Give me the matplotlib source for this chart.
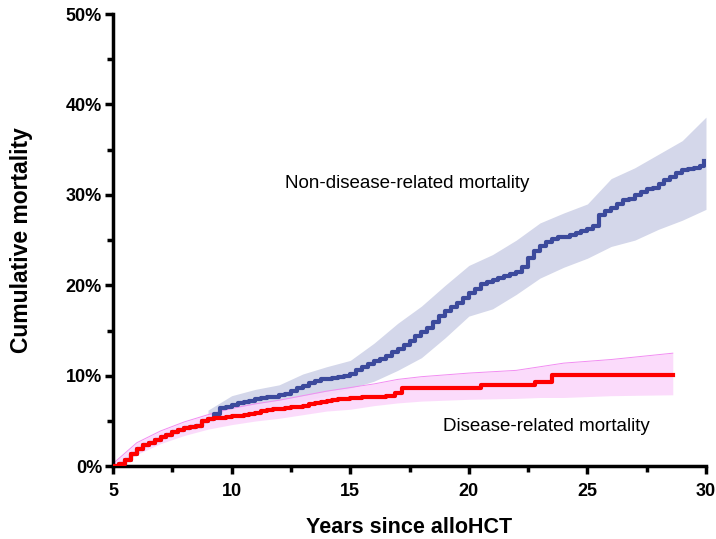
import numpy as np
import matplotlib.pyplot as plt
from matplotlib.ticker import MultipleLocator, FuncFormatter

plt.rcParams['font.family'] = ['Liberation Sans', 'DejaVu Sans']

# Non-disease-related mortality (step curve, %)
t_nd = [5.00, 5.25, 5.50, 5.75, 6.00, 6.25, 6.50, 6.75, 7.00, 7.25, 7.50, 7.75,
        8.00, 8.25, 8.50, 8.75, 9.00, 9.25, 9.50, 9.75, 10.00, 10.25, 10.50, 10.75,
        11.00, 11.25, 11.50, 11.75, 12.00, 12.25, 12.50, 12.75, 13.00, 13.25, 13.50,
        13.75, 14.00, 14.25, 14.50, 14.75, 15.00, 15.25, 15.50, 15.75, 16.00, 16.25,
        16.50, 16.75, 17.00, 17.25, 17.50, 17.75, 18.00, 18.25, 18.50, 18.75, 19.00,
        19.25, 19.50, 19.75, 20.00, 20.25, 20.50, 20.75, 21.00, 21.25, 21.50, 21.75,
        22.00, 22.25, 22.50, 22.75, 23.00, 23.25, 23.50, 23.75, 24.00, 24.25, 24.50,
        24.75, 25.00, 25.25, 25.50, 25.75, 26.00, 26.25, 26.50, 26.75, 27.00, 27.25,
        27.50, 27.75, 28.00, 28.25, 28.50, 28.75, 29.00, 29.25, 29.50, 29.75, 29.90]
y_nd = [0.0, 0.2, 0.7, 1.3, 1.9, 2.3, 2.6, 2.9, 3.2, 3.5, 3.8, 4.0,
        4.2, 4.3, 4.4, 5.0, 5.2, 5.8, 6.4, 6.6, 6.8, 7.0, 7.1, 7.2,
        7.4, 7.5, 7.6, 7.7, 7.9, 8.0, 8.3, 8.6, 8.9, 9.2, 9.4,
        9.6, 9.7, 9.8, 9.9, 10.0, 10.2, 10.6, 11.0, 11.3, 11.6, 11.9,
        12.2, 12.6, 13.0, 13.4, 13.9, 14.4, 14.8, 15.3, 16.0, 16.6, 17.2,
        17.6, 18.0, 18.6, 19.2, 19.6, 20.1, 20.4, 20.6, 20.8, 21.0, 21.2,
        21.5, 22.0, 23.0, 23.8, 24.4, 24.8, 25.1, 25.3, 25.4, 25.6, 25.8,
        26.0, 26.2, 26.6, 27.8, 28.2, 28.6, 29.0, 29.4, 29.6, 30.0, 30.3,
        30.7, 30.8, 31.2, 31.6, 32.0, 32.4, 32.8, 32.9, 33.0, 33.2, 33.7]
# confidence band
t_nd_ci = [9.0, 10, 11, 12, 13, 14, 15, 16, 17, 18, 19, 20, 21, 22, 23, 24, 25,
           26, 27, 28, 29, 30]
hi_nd = [6.2, 7.8, 8.5, 9.0, 10.2, 11.0, 11.7, 13.6, 15.8, 17.7, 20.0, 22.2,
         23.4, 25.0, 26.9, 28.0, 29.0, 31.8, 33.0, 34.5, 36.0, 38.6]
lo_nd = [5.0, 5.6, 5.9, 6.5, 7.2, 7.8, 8.6, 9.4, 10.6, 12.0, 14.2, 16.6,
         17.4, 19.0, 20.8, 22.0, 23.0, 24.3, 25.0, 26.2, 27.2, 28.4]

# Disease-related mortality
t_d = [5.00, 5.25, 5.50, 5.75, 6.00, 6.25, 6.50, 6.75, 7.00, 7.25, 7.50, 7.75,
       8.00, 8.25, 8.50, 8.75, 9.00, 9.25, 9.50, 9.75, 10.00, 10.25, 10.50, 10.75,
       11.00, 11.25, 11.50, 11.75, 12.00, 12.25, 12.50, 12.75, 13.00, 13.25, 13.50,
       13.75, 14.00, 14.25, 14.50, 14.75, 15.00, 15.50, 16.00, 16.50, 16.90, 17.20,
       17.50, 19.70, 20.50, 22.80, 23.50, 28.60]
y_d = [0.0, 0.2, 0.7, 1.3, 1.9, 2.3, 2.6, 2.9, 3.2, 3.5, 3.8, 4.0,
       4.2, 4.3, 4.4, 5.0, 5.2, 5.3, 5.3, 5.4, 5.5, 5.6, 5.7, 5.8,
       5.9, 6.1, 6.2, 6.3, 6.3, 6.4, 6.5, 6.6, 6.7, 6.9, 7.0,
       7.1, 7.2, 7.3, 7.4, 7.45, 7.5, 7.6, 7.7, 7.8, 8.1, 8.6,
       8.6, 8.7, 9.0, 9.3, 10.1, 10.1]
t_d_ci = [5, 6, 7, 8, 9, 10, 11, 12, 13, 14, 15, 16, 17, 18, 20, 22, 23, 24, 26, 28.6]
hi_d = [0.3, 2.6, 3.9, 4.9, 5.7, 6.4, 6.9, 7.3, 7.8, 8.3, 8.7, 9.1, 9.6, 9.9,
        10.3, 10.6, 11.0, 11.4, 11.8, 12.5]
lo_d = [0.0, 1.3, 2.5, 3.4, 4.1, 4.6, 5.0, 5.3, 5.7, 6.1, 6.3, 6.7, 7.0, 7.2,
        7.4, 7.5, 7.6, 7.6, 7.8, 7.9]

fig = plt.figure(figsize=(7.16, 5.39), dpi=100)
ax = fig.add_axes([0.158, 0.135, 0.828, 0.839])

ax.fill_between(t_nd_ci, lo_nd, hi_nd, color='#d4d7ea', lw=0, zorder=1)
ax.fill_between(t_d_ci, lo_d, hi_d, color='#fbd8fb', lw=0, alpha=0.9, zorder=2)
ax.plot(t_d_ci, hi_d, color='#f28cf2', lw=0.7, zorder=2)
ax.plot(t_nd, y_nd, drawstyle='steps-post', color='#3c4a9c', lw=3, zorder=3)
ax.plot(t_d, y_d, drawstyle='steps-post', color='#ff0000', lw=3, zorder=4)

ax.text(17.4, 31.3, 'Non-disease-related mortality', ha='center', va='center', fontsize=13.5)
ax.text(23.25, 4.4, 'Disease-related mortality', ha='center', va='center', fontsize=13.5)

ax.set_xlim(5, 30)
ax.set_ylim(0, 50)
ax.xaxis.set_major_locator(MultipleLocator(5))
ax.xaxis.set_minor_locator(MultipleLocator(2.5))
ax.yaxis.set_major_locator(MultipleLocator(10))
ax.yaxis.set_minor_locator(MultipleLocator(5))
ax.yaxis.set_major_formatter(FuncFormatter(lambda v, p: '%d%%' % v))

for s in ['top', 'right']:
    ax.spines[s].set_visible(False)
for s in ['left', 'bottom']:
    ax.spines[s].set_linewidth(2.5)
ax.tick_params(which='major', length=6, width=2.5)
ax.tick_params(which='minor', length=4, width=2.5)
ax.tick_params(axis='x', labelsize=13, pad=6)
ax.tick_params(axis='y', labelsize=13, pad=2)
for lab in ax.get_xticklabels() + ax.get_yticklabels():
    lab.set_fontweight('bold')

ax.set_xlabel('Years since alloHCT', fontsize=15.5, fontweight='bold', labelpad=12)
ax.set_ylabel('Cumulative mortality', fontsize=16.5, fontweight='bold')
ax.yaxis.set_label_coords(-0.135, 0.5)

plt.savefig('out.png', dpi=100)
